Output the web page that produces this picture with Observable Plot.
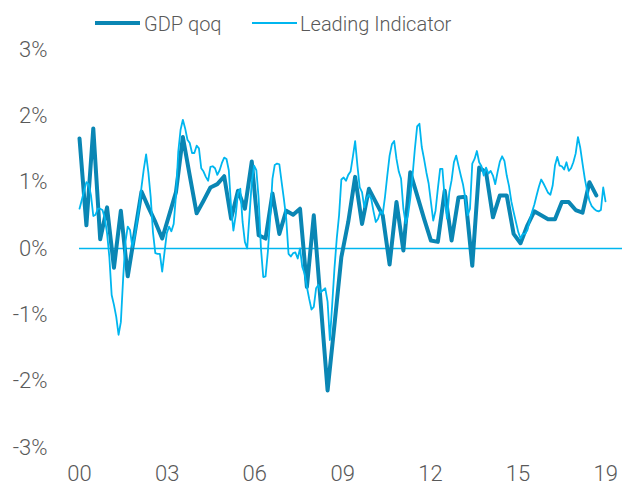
<!DOCTYPE html>
<html><head><meta charset="utf-8">
<script src="https://cdn.jsdelivr.net/npm/d3@7"></script>
<script src="https://cdn.jsdelivr.net/npm/@observablehq/plot@0.6"></script>
<style>
body{margin:0;background:#fff;font-family:Roboto,"Noto Sans",sans-serif;}
#wrap{position:relative;width:623px;height:488px;overflow:hidden;}
#legend{position:absolute;left:0;top:0;width:623px;height:40px;z-index:2;}
#chart{position:absolute;left:0;top:0;}
.sw{position:absolute;}
.lt{position:absolute;font-size:20px;line-height:1;color:#595959;font-weight:300;white-space:nowrap;}
</style></head>
<body>
<div id="wrap">
<div id="chart"></div>
<div id="legend"></div>
</div>
<script>
// Quarterly GDP growth (qoq, %), 2000Q1 .. 2018Q4
const gdpStartYear = 2000;
const gdpQoq = [1.66,0.35,1.81,0.14,0.62,-0.29,0.57,-0.42,0.22,0.86,0.62,0.40,
0.15,0.50,0.85,1.68,1.10,0.53,0.72,0.92,0.97,1.09,0.45,0.87,
0.60,1.31,0.20,0.15,0.83,0.22,0.57,0.51,0.60,-0.58,0.50,-0.82,
-2.14,-1.15,-0.13,0.40,1.08,0.37,0.90,0.70,0.50,-0.24,0.70,-0.03,
1.15,0.80,0.45,0.12,0.10,0.87,0.12,0.77,0.78,-0.26,1.22,1.15,
0.47,0.80,0.80,0.22,0.08,0.35,0.56,0.50,0.44,0.44,0.70,0.70,
0.58,0.54,1.00,0.80];
// Monthly leading indicator (%), Jan 2000 .. Feb 2019
const leadingIndicator = [
0.60,0.73,0.87,1.00,0.97,0.80,0.49,0.51,0.60,0.60,0.58,0.46,
0.23,-0.13,-0.70,-0.85,-1.03,-1.30,-1.11,-0.45,0.10,0.33,0.28,0.02,
0.18,0.40,0.63,0.93,1.20,1.42,1.14,0.77,0.24,-0.07,-0.08,-0.08,
-0.35,-0.06,0.23,0.33,0.26,0.37,0.80,1.46,1.79,1.94,1.81,1.64,
1.59,1.44,1.44,1.55,1.51,1.21,1.16,1.08,1.02,1.23,1.24,1.21,
1.11,1.18,1.29,1.37,1.35,1.18,0.62,0.27,0.50,0.84,0.90,0.40,
0.10,0.00,0.50,1.00,1.25,1.18,0.75,0.00,-0.43,-0.42,-0.05,0.45,
1.05,1.26,1.28,1.27,1.00,0.74,0.45,-0.08,-0.12,-0.07,-0.06,-0.15,
0.00,-0.28,-0.38,-0.58,-0.76,-0.92,-0.88,-0.60,-0.55,-0.66,-0.63,-0.60,
-0.80,-1.38,-0.85,-0.30,0.15,0.50,1.04,1.07,1.02,1.11,1.16,1.38,
1.62,1.25,0.92,0.85,0.62,0.76,0.81,0.75,0.56,0.40,0.45,0.56,
0.52,0.78,1.10,1.40,1.57,1.62,1.35,1.16,1.05,0.60,0.38,0.50,
0.75,1.10,1.50,1.84,1.88,1.53,1.35,1.15,0.98,0.70,0.42,0.57,
0.90,1.20,1.20,0.75,0.45,0.85,1.03,1.30,1.40,1.25,1.10,0.96,
0.75,0.50,0.60,1.28,1.35,1.47,1.30,1.24,1.10,1.22,1.13,1.17,
1.10,0.97,1.15,1.31,1.39,1.32,1.10,0.94,0.71,0.55,0.40,0.25,
0.15,0.22,0.22,0.28,0.42,0.55,0.66,0.80,0.93,1.04,0.98,0.91,
0.84,0.81,0.95,1.25,1.38,1.25,1.24,1.19,1.30,1.17,1.21,1.30,
1.43,1.68,1.52,1.28,1.05,0.87,0.72,0.64,0.60,0.57,0.56,0.58,0.92,0.71];
const seriesNames = ["GDP qoq","Leading Indicator"];
const xTickLabels = ["00","03","06","09","12","15","19"];
const xTickYears = [2000,2003.18,2006.36,2009.55,2012.73,2015.91,2019.09];
const yTicks = [-3,-2,-1,0,1,2,3];

const gdpColor = "#0a86b4", liColor = "#00b6ef";

const gdpData = gdpQoq.map((v,i)=>({x: gdpStartYear + i/4, y: v}));
const liData = leadingIndicator.map((v,i)=>({x: gdpStartYear + i/12, y: v}));
const labelMap = new Map(xTickYears.map((d,i)=>[d, xTickLabels[i]]));

// legend
const lg = document.getElementById("legend");
const items = [
  {name: seriesNames[0], color: gdpColor, w: 4, sx: 95, tx: 144},
  {name: seriesNames[1], color: liColor, w: 2, sx: 252, tx: 300}
];
for (const it of items) {
  const s = document.createElement("div");
  s.className = "sw";
  s.style.cssText = `left:${it.sx}px;top:${22.7 - it.w/2}px;width:45px;height:${it.w}px;background:${it.color};`;
  lg.appendChild(s);
  const t = document.createElement("div");
  t.className = "lt";
  t.style.cssText = `left:${it.tx}px;top:14px;`;
  t.textContent = it.name;
  lg.appendChild(t);
}

const chart = Plot.plot({
  width: 623, height: 488,
  marginLeft: 79, marginRight: 1, marginTop: 49, marginBottom: 41,
  style: {fontFamily: "Roboto, 'Noto Sans', sans-serif", fontSize: "22px", color: "#595959", fontWeight: 300, background: "#fff"},
  x: {domain: [2000, 2019.7]},
  y: {domain: [-3, 3]},
  marks: [
    Plot.axisY(yTicks, {tickSize: 0, tickPadding: 32, tickFormat: d => d + "%", label: null, fontSize: 22}),
    Plot.axisX(xTickYears, {tickSize: 0, tickPadding: 18, tickFormat: d => labelMap.get(d), label: null, fontSize: 22}),
    Plot.ruleY([0], {stroke: liColor, strokeWidth: 1.5}),
    Plot.lineY(gdpData, {x: "x", y: "y", stroke: gdpColor, strokeWidth: 4, strokeLinejoin: "round", strokeLinecap: "round"}),
    Plot.lineY(liData, {x: "x", y: "y", stroke: liColor, strokeWidth: 1.8, strokeLinejoin: "round"})
  ]
});
document.getElementById("chart").appendChild(chart);
</script>
</body></html>
